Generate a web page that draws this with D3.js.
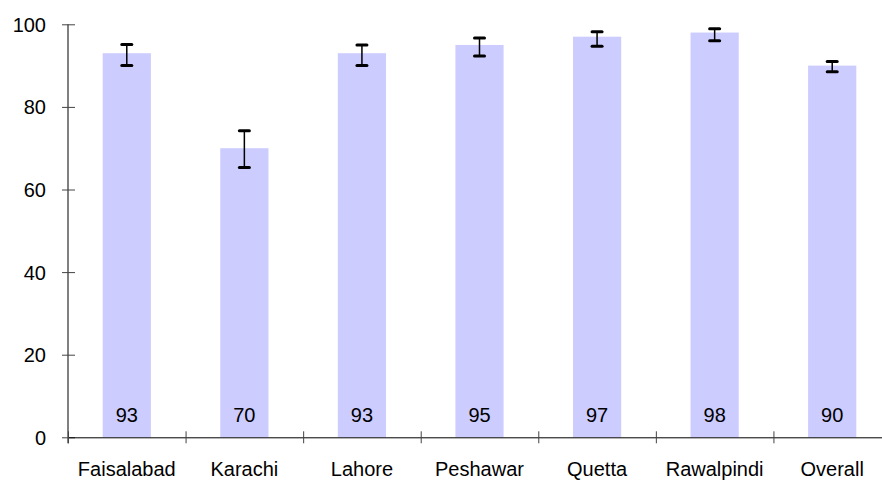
<!DOCTYPE html>
<html>
<head>
<meta charset="utf-8">
<script src="https://cdn.jsdelivr.net/npm/d3@7"></script>
<style>
  body { margin: 0; background: #fff; }
  svg { display: block; }
  text { font-family: "Liberation Sans", Arial, sans-serif; fill: #000; }
</style>
</head>
<body>
<div id="chart"></div>
<script>
const cities = ["Faisalabad", "Karachi", "Lahore", "Peshawar", "Quetta", "Rawalpindi", "Overall"];
const values = [93, 70, 93, 95, 97, 98, 90];
const lower = [90.0, 65.3, 90.0, 92.3, 94.7, 96.0, 88.5];
const upper = [95.1, 74.2, 95.0, 96.7, 98.2, 98.9, 91.0];
const yTicks = [0, 20, 40, 60, 80, 100];

const W = 882, H = 481;
const plotLeft = 68, plotRight = 891, plotTop = 24.3, plotBottom = 437.3;

const svg = d3.select("#chart").append("svg")
    .attr("width", W)
    .attr("height", H);

// scales
const x = d3.scaleBand()
    .domain(cities)
    .range([plotLeft, plotRight])
    .paddingInner(0.59)
    .paddingOuter(0.295);

const xEdges = d3.scaleLinear()
    .domain([0, cities.length])
    .range([plotLeft, plotRight]);

const y = d3.scaleLinear()
    .domain([0, 100])
    .range([plotBottom, plotTop]);

// bars
svg.selectAll(".bar")
    .data(values)
    .enter()
    .append("rect")
    .attr("class", "bar")
    .attr("x", (d, i) => x(cities[i]))
    .attr("y", d => y(d))
    .attr("width", x.bandwidth())
    .attr("height", d => y(0) - y(d))
    .attr("fill", "#ccccff");

// error bars
const cx = i => x(cities[i]) + x.bandwidth() / 2;
const err = svg.append("g");
err.selectAll(".stem")
    .data(values)
    .enter()
    .append("line")
    .attr("x1", (d, i) => cx(i))
    .attr("x2", (d, i) => cx(i))
    .attr("y1", (d, i) => y(upper[i]))
    .attr("y2", (d, i) => y(lower[i]))
    .attr("stroke", "#000")
    .attr("stroke-width", 1.5);

[upper, lower].forEach(arr => {
    err.selectAll(null)
        .data(arr)
        .enter()
        .append("line")
        .attr("x1", (d, i) => cx(i) - 5)
        .attr("x2", (d, i) => cx(i) + 5)
        .attr("y1", d => y(d))
        .attr("y2", d => y(d))
        .attr("stroke", "#000")
        .attr("stroke-width", 3)
        .attr("stroke-linecap", "round");
});

// value labels inside bars
svg.selectAll(".val")
    .data(values)
    .enter()
    .append("text")
    .attr("x", (d, i) => cx(i))
    .attr("y", 421.5)
    .attr("text-anchor", "middle")
    .style("font-size", "20px")
    .text(d => d);

// y axis
const yAxis = svg.append("g")
    .attr("transform", `translate(${plotLeft},0)`)
    .call(d3.axisLeft(y).tickValues(yTicks).tickSize(6).tickPadding(0).tickSizeOuter(0));
yAxis.select(".domain").attr("stroke", "#000").attr("d", `M0,${plotBottom + 6}V${plotTop}`);
yAxis.selectAll(".tick line").attr("x1", -6).attr("x2", 7).attr("stroke", "#444");
yAxis.selectAll(".tick text")
    .attr("x", -22)
    .attr("dy", "0.35em")
    .style("font-size", "20px")
    .style("font-family", "'Liberation Sans', Arial, sans-serif")
    .attr("fill", "#000");

// x axis with ticks on category edges
const xAxis = svg.append("g")
    .attr("transform", `translate(0,${plotBottom})`)
    .call(d3.axisBottom(xEdges).tickValues(d3.range(0, cities.length + 1)).tickFormat("").tickSizeOuter(0));
xAxis.select(".domain").attr("stroke", "#000");
xAxis.selectAll(".tick line").attr("y1", -6).attr("y2", 6).attr("stroke", "#444");

// category labels
svg.selectAll(".cat")
    .data(cities)
    .enter()
    .append("text")
    .attr("x", d => x(d) + x.bandwidth() / 2)
    .attr("y", 476)
    .attr("text-anchor", "middle")
    .style("font-size", "20px")
    .text(d => d);
</script>
</body>
</html>
